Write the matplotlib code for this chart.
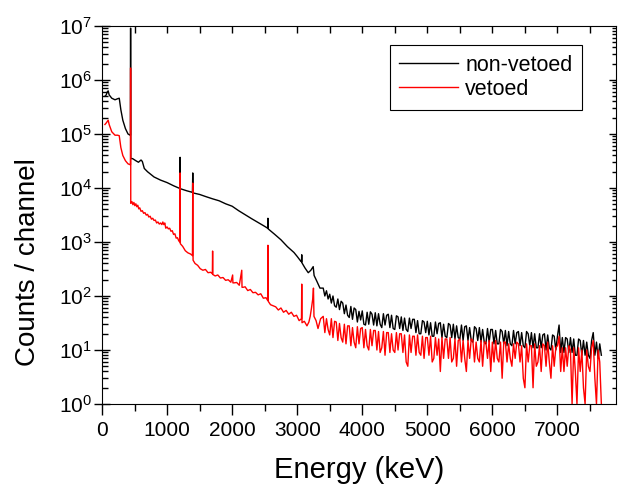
import numpy as np
import matplotlib
matplotlib.use('Agg')
import matplotlib.pyplot as plt
from matplotlib.ticker import MultipleLocator, LogLocator, NullFormatter

plt.rcParams['font.family'] = ['Liberation Sans', 'DejaVu Sans']
plt.rcParams['mathtext.fontset'] = 'custom'
plt.rcParams['mathtext.rm'] = 'Liberation Sans'
plt.rcParams['mathtext.it'] = 'Liberation Sans:italic'

# non-vetoed spectrum, low energy part (keV, counts)
black_energy = [45, 65, 80, 95, 110, 150, 200, 240, 265, 290, 320, 360, 400, 432, 437,
                438, 441, 442, 446, 470, 520, 560, 600, 620, 650, 700, 800, 900, 1000,
                1100, 1196, 1200, 1204, 1300, 1390, 1395, 1400, 1500, 1600, 1700, 1800,
                1900, 2000, 2100, 2200, 2300, 2400, 2500, 2546, 2550, 2554, 2650, 2750,
                2850, 2950, 3000, 3050, 3066, 3070, 3074, 3120, 3170, 3210, 3246, 3260,
                3300, 3350]
black_counts = [5.0e5, 5.3e5, 6.0e5, 6.3e5, 5.3e5, 4.6e5, 4.3e5, 4.5e5, 4.6e5, 2.8e5,
                1.8e5, 1.26e5, 1.0e5, 9.5e4, 9.5e4,
                9.1e6, 9.1e6, 3.6e4, 3.5e4, 3.5e4, 3.2e4, 3.0e4, 3.3e4, 3.1e4, 2.3e4,
                2.0e4, 1.6e4, 1.4e4, 1.26e4,
                1.1e4, 9.8e3, 3.7e4, 9.7e3, 8.9e3, 8.3e3, 1.9e4, 8.1e3, 7.6e3, 6.9e3,
                6.3e3, 5.8e3,
                5.1e3, 4.6e3, 3.8e3, 3.2e3, 2.7e3, 2.3e3, 1.95e3, 1.8e3, 2.75e3, 1.75e3,
                1.4e3, 1.1e3,
                820, 640, 540, 450, 430, 580, 410, 330, 270, 300, 350, 240,
                190, 140]

# vetoed spectrum, low energy part
red_energy = [45, 65, 80, 95, 110, 150, 200, 240, 265, 290, 320, 360, 400, 432, 437,
              438, 441, 442, 460, 475, 490, 505, 520, 535, 550, 565, 580, 600, 620,
              640, 660, 680, 700, 720, 740, 760, 780, 800, 820, 840, 860, 880, 900,
              920, 935, 950, 965, 980, 1000, 1020, 1040, 1060, 1080, 1100, 1120, 1140,
              1160, 1180, 1196, 1200, 1204,
              1240, 1280, 1320, 1360, 1390, 1395, 1400, 1430, 1470, 1510, 1550, 1590,
              1630, 1670, 1696, 1700, 1704, 1740, 1780, 1820, 1860, 1900, 1940, 1980,
              2008, 2012, 2030, 2070, 2110, 2148, 2152, 2170, 2200, 2240, 2280, 2320,
              2360, 2400, 2440, 2480, 2520, 2546, 2550, 2554, 2590, 2630, 2670, 2710,
              2750, 2790, 2830, 2870, 2910, 2950, 2990, 3030, 3066, 3070, 3074, 3110,
              3150, 3180, 3200, 3220, 3240, 3250, 3258, 3290, 3320, 3360]
red_counts = [1.5e5, 1.6e5, 1.7e5, 1.8e5, 1.5e5, 1.1e5, 9.5e4, 9.5e4, 9.3e4, 5.6e4,
              4.0e4, 3.2e4, 2.8e4, 2.7e4, 2.7e4,
              1.66e6, 1.66e6, 5.2e3, 5.6e3, 4.9e3, 5.4e3, 4.7e3, 5.1e3, 4.5e3, 4.8e3,
              4.1e3, 4.3e3, 3.7e3, 3.8e3,
              3400, 3500, 3150, 3250, 2900, 3000, 2650, 2750, 2500, 2550, 2250, 2350,
              2150, 2250,
              2100, 2350, 2100, 2250, 1800, 1900, 1750, 1800, 1580, 1620, 1380, 1420,
              1180, 1200, 1050, 1000, 1.9e4, 930,
              830, 690, 630, 600, 560, 1.23e4, 460, 400, 370, 320, 300, 310,
              270, 275, 258, 680, 250, 235, 245, 215, 220, 195, 200, 180,
              245, 175, 175, 178, 158, 300, 145, 145, 148, 126, 132, 115,
              117, 105, 110, 91, 93, 83, 870, 80, 69, 66, 63, 55,
              60, 50, 54, 46, 50, 42, 44, 35, 38, 166, 32, 34,
              28, 33, 42, 60, 90, 140, 42, 35, 25, 38]

# high energy part, one value per 25 keV from 3400 keV
tail_energy = np.arange(3400, 7700, 25)
black_tail = [140, 100, 125, 88, 108, 74, 100, 66, 62, 88, 56, 80,
              74, 47, 68, 44, 40, 64, 37, 60, 56, 33, 52, 36,
              53, 30, 29, 50, 30, 51, 46, 29, 49, 28, 47, 30,
              26, 47, 29, 44, 46, 26, 44, 25, 24, 43, 41, 25,
              41, 23, 39, 24, 22, 39, 25, 37, 37, 21, 35, 20,
              20, 35, 33, 21, 34, 19, 32, 18, 18, 33, 20, 31,
              32, 17, 30, 18, 17, 31, 29, 17, 30, 16, 28, 17,
              16, 29, 15, 27, 28, 15, 26, 15, 14, 27, 25, 15,
              26, 14, 24, 14, 13, 25, 14, 24, 24, 13, 23, 13,
              13, 24, 22, 13, 23, 12, 22, 13, 12, 23, 13, 21,
              22, 12, 21, 12, 11, 22, 20, 12, 21, 11, 20, 11,
              11, 20, 11, 19, 20, 10, 19, 11, 10, 19, 18, 10,
              18, 29, 9, 17, 9, 17, 16, 9, 17, 9, 16, 8,
              8, 16, 15, 8, 15, 8, 14, 8, 7, 15, 21, 8,
              14, 7, 13, 8]
red_tail = [42, 21, 38, 24, 19, 38, 17, 34, 33, 15, 31, 17,
            14, 30, 13, 28, 28, 12, 26, 14, 11, 27, 13, 25,
            26, 11, 24, 12, 10, 24, 12, 23, 23, 10, 22, 9,
            11, 22, 8, 21, 21, 9, 20, 10, 9, 21, 10, 20,
            20, 9, 19, 6, 5, 19, 9, 18, 18, 8, 19, 9,
            8, 18, 7, 17, 17, 8, 18, 6, 7, 17, 8, 16,
            4, 17, 7, 16, 16, 7, 17, 6, 7, 16, 5, 15,
            16, 6, 15, 7, 4, 15, 7, 16, 15, 6, 14, 7,
            6, 15, 5, 14, 14, 7, 15, 4, 14, 6, 15, 7,
            6, 14, 3, 14, 14, 6, 13, 7, 5, 13, 7, 14,
            13, 6, 12, 3, 2, 13, 6, 12, 12, 2, 13, 5,
            6, 12, 4, 13, 12, 5, 14, 6, 3, 12, 5, 11,
            12, 18, 4, 11, 4, 11, 5, 12, 10, 1, 11, 4,
            1, 11, 4, 10, 2, 1, 10, 5, 4, 11, 15, 3,
            1, 10, 6, 1]

x_black = np.concatenate([black_energy, tail_energy])
y_black = np.concatenate([black_counts, black_tail])
x_red = np.concatenate([red_energy, tail_energy])
y_red = np.concatenate([red_counts, red_tail])

fig = plt.figure(figsize=(6.27, 4.84), dpi=100)
ax = fig.add_axes([102/627, 80/484, 514/627, 378/484])

ax.plot(x_black, y_black, color='black', lw=1.0, label='non-vetoed')
ax.plot(x_red, y_red, color='red', lw=1.0, label='vetoed')

ax.set_yscale('log')
ax.set_xlim(0, 7900)
ax.set_ylim(1, 1e7)

ax.xaxis.set_major_locator(MultipleLocator(1000))
ax.xaxis.set_minor_locator(MultipleLocator(500))
ax.yaxis.set_major_locator(LogLocator(base=10, numticks=20))
ax.yaxis.set_minor_locator(LogLocator(base=10, subs=np.arange(2, 10), numticks=100))
ax.yaxis.set_minor_formatter(NullFormatter())

ax.tick_params(axis='x', which='major', direction='out', length=8, width=1, labelsize=15, pad=4)
ax.tick_params(axis='x', which='minor', direction='out', length=5, width=1)
ax.tick_params(axis='y', which='major', direction='inout', length=12, width=1, labelsize=15, pad=1)
ax.tick_params(axis='y', which='minor', direction='in', length=4, width=1)

leg = ax.legend(loc='upper right', bbox_to_anchor=(0.934, 0.95), borderaxespad=0,
                fancybox=False, edgecolor='black', framealpha=1, fontsize=15.5,
                handlelength=2.7, handletextpad=0.35, borderpad=0.45, labelspacing=0.15)
leg.get_frame().set_linewidth(0.8)

# inward ticks on the top and right frame, drawn as short segments on the axes edges
top_ticks = np.arange(500, 7900, 500)
ax.vlines(top_ticks, 1 - 7/378, 1, transform=ax.get_xaxis_transform(),
          colors='black', lw=1, clip_on=False, zorder=5)
right_major = 10.0 ** np.arange(1, 7)
right_minor = [m * 10.0 ** d for d in range(0, 7) for m in range(2, 10)]
ax.hlines(right_major, 1 - 7/514, 1, transform=ax.get_yaxis_transform(),
          colors='black', lw=1, clip_on=False, zorder=5)
ax.hlines(right_minor, 1 - 4/514, 1, transform=ax.get_yaxis_transform(),
          colors='black', lw=1, clip_on=False, zorder=5)

fig.text(359/627, 1 - 470/484, 'Energy (keV)', ha='center', va='center', fontsize=21)
fig.text(28/627, 1 - 262/484, 'Counts / channel', ha='center', va='center',
         rotation=90, fontsize=20)

fig.savefig('out.png', dpi=100)
